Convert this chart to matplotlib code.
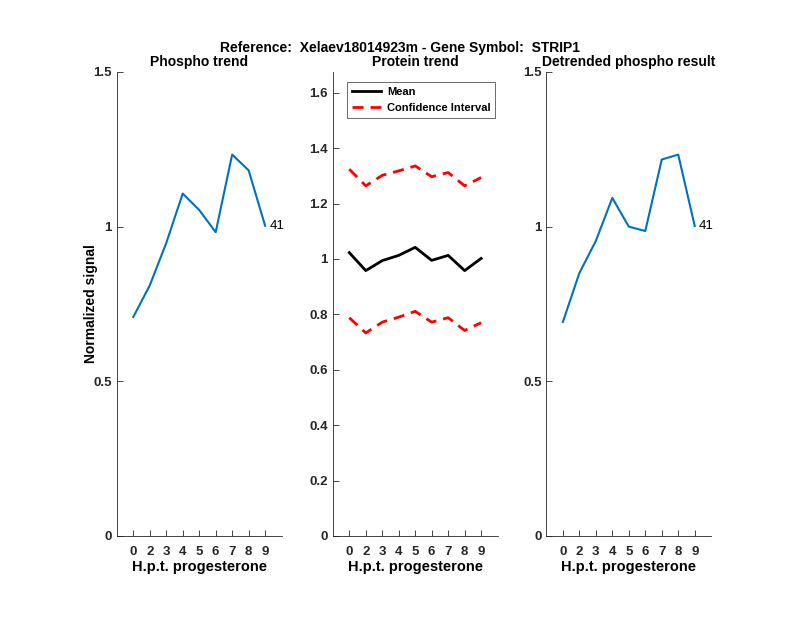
import matplotlib
matplotlib.use("Agg")
import matplotlib.pyplot as plt

plt.rcParams['font.family'] = ['Liberation Sans', 'DejaVu Sans']

# x positions and tick labels (hours post progesterone)
x = [1, 2, 3, 4, 5, 6, 7, 8, 9]
xlabels = ['0', '2', '3', '4', '5', '6', '7', '8', '9']

phospho = [0.708, 0.81, 0.947, 1.107, 1.054, 0.982, 1.233, 1.182, 1.003]
prot_mean = [1.023, 0.958, 0.994, 1.013, 1.042, 0.995, 1.013, 0.958, 1.002]
prot_upper = [1.324, 1.264, 1.302, 1.318, 1.336, 1.297, 1.312, 1.264, 1.294]
prot_lower = [0.788, 0.733, 0.772, 0.79, 0.811, 0.772, 0.788, 0.742, 0.77]
detrended = [0.692, 0.85, 0.954, 1.093, 1.0, 0.986, 1.217, 1.233, 1.002]

n_peptides = '41'
blue = '#0072BD'
axcol = '#262626'

fig = plt.figure(figsize=(8, 6.18), dpi=100)
fig.suptitle('Reference:  Xelaev18014923m - Gene Symbol:  STRIP1',
             fontsize=10, fontweight='bold', y=0.933)

pos = [[0.146, 0.1327, 0.206, 0.7508],
       [0.416, 0.1327, 0.206, 0.7508],
       [0.683, 0.1327, 0.206, 0.7508]]


def style(ax, ylim, yticks, yticklabels, title):
    ax.set_xlim(0, 10)
    ax.set_ylim(*ylim)
    ax.set_xticks(x)
    ax.set_xticklabels(xlabels)
    ax.set_yticks(yticks)
    ax.set_yticklabels(yticklabels)
    for s in ['top', 'right']:
        ax.spines[s].set_visible(False)
    for s in ['left', 'bottom']:
        ax.spines[s].set_color(axcol)
        ax.spines[s].set_linewidth(0.6)
    ax.tick_params(direction='in', length=4, width=0.6, colors=axcol,
                   labelsize=9.5)
    ax.tick_params(axis='x', pad=7)
    for lab in ax.get_xticklabels() + ax.get_yticklabels():
        lab.set_fontweight('bold')
    ax.set_title(title, fontsize=10, fontweight='bold', pad=4)
    ax.set_xlabel('H.p.t. progesterone', fontsize=10.5, fontweight='bold',
                  labelpad=2)


ax1 = fig.add_axes(pos[0])
ax1.plot(x, phospho, color=blue, lw=1.5)
ax1.text(9.25, phospho[-1], n_peptides, fontsize=9.5, va='center')
style(ax1, (0, 1.5), [0, 0.5, 1, 1.5], ['0', '0.5', '1', '1.5'], 'Phospho trend')
ax1.set_ylabel('Normalized signal', fontsize=10, fontweight='bold', labelpad=-3)

ax2 = fig.add_axes(pos[1])
ax2.plot(x, prot_mean, color='black', lw=2, label='Mean')
ax2.plot(x, prot_upper, color='red', lw=2, ls=(0, (4, 2.5)), label='Confidence Interval')
ax2.plot(x, prot_lower, color='red', lw=2, ls=(0, (4, 2.5)))
yt = [0, 0.2, 0.4, 0.6, 0.8, 1, 1.2, 1.4, 1.6]
style(ax2, (0, 1.675), yt, ['0', '0.2', '0.4', '0.6', '0.8', '1', '1.2', '1.4', '1.6'],
      'Protein trend')
leg = ax2.legend(loc='upper left', bbox_to_anchor=(0.055, 0.99), fontsize=8,
                 frameon=True, fancybox=False, handlelength=2.6,
                 borderpad=0.45, labelspacing=0.5, handletextpad=0.5)
leg.get_frame().set_edgecolor(axcol)
leg.get_frame().set_linewidth(0.6)
for t in leg.get_texts():
    t.set_fontweight('bold')

ax3 = fig.add_axes(pos[2])
ax3.plot(x, detrended, color=blue, lw=1.5)
ax3.text(9.25, detrended[-1], n_peptides, fontsize=9.5, va='center')
style(ax3, (0, 1.5), [0, 0.5, 1, 1.5], ['0', '0.5', '1', '1.5'],
      'Detrended phospho result')

fig.savefig('out.png', dpi=100)
